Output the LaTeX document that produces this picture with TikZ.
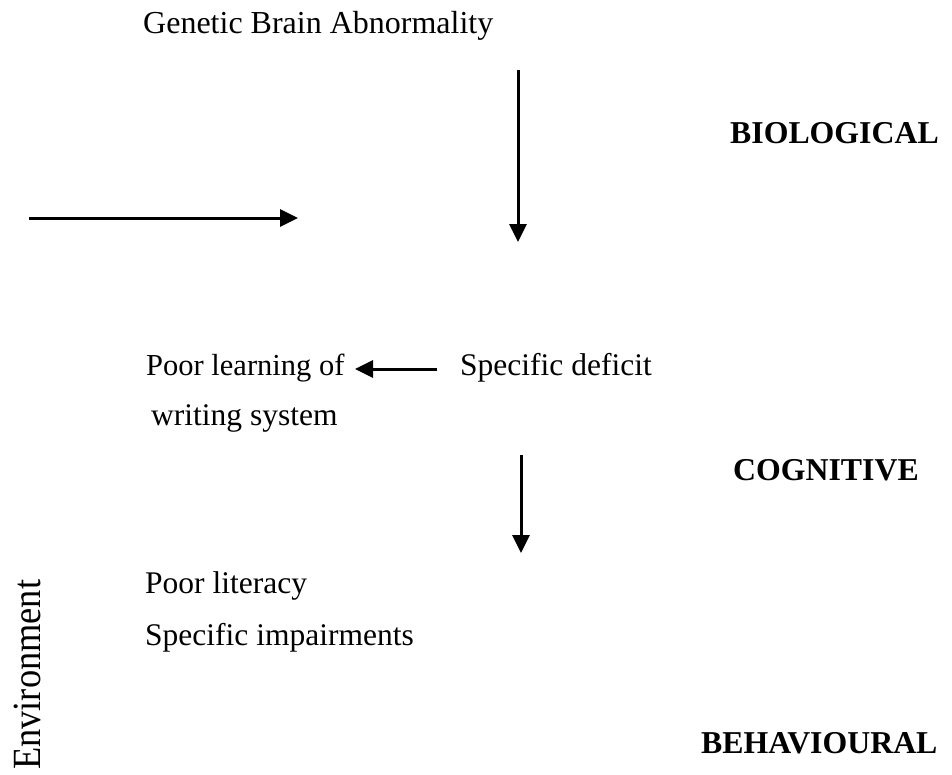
\documentclass[tikz,border=0pt]{standalone}
\usepackage{fontspec}
\setmainfont{Liberation Serif}
\usetikzlibrary{arrows.meta}
\begin{document}
\begin{tikzpicture}[x=1pt,y=-1pt,
  lbl/.style={anchor=base west,inner sep=0pt,font=\fontsize{31.5}{36}\selectfont},
  lvl/.style={anchor=base west,inner sep=0pt,font=\fontsize{31.8}{36}\selectfont\bfseries},
  arr/.style={line width=3pt,-{Triangle[width=17pt,length=18pt]}}]
\useasboundingbox (0,0) rectangle (952,774);
\node[lbl,font=\fontsize{32}{36}\selectfont] (gba) at (143,33) {Genetic Brain Abnormality};
\node[lvl] (bio) at (730,143) {BIOLOGICAL};
\coordinate (a1s) at (518,70);
\coordinate (a1e) at (518,242);
\draw[arr] (a1s) -- (a1e);
\coordinate (envs) at (29,218);
\coordinate (enve) at (298,218);
\draw[arr] (envs) -- (enve);
\node[lbl,font=\fontsize{30.5}{36}\selectfont] (pl) at (146,375) {Poor learning of};
\node[lbl] (sd) at (460,375) {Specific deficit};
\node[lbl] (ws) at (151,425) {writing system};
\coordinate (a2s) at (437,369);
\coordinate (a2e) at (355,369);
\draw[arr] (a2s) -- (a2e);
\coordinate (a3s) at (521,455);
\coordinate (a3e) at (521,553);
\draw[arr] (a3s) -- (a3e);
\node[lvl] (cog) at (733,480) {COGNITIVE};
\node[lbl] (plit) at (145,593) {Poor literacy};
\node[lbl] (si) at (145,645) {Specific impairments};
\node[lbl,rotate=90,font=\fontsize{40}{44}\selectfont] (env) at (40,770) {\scalebox{0.91}[1]{Environment}};
\node[lvl] (beh) at (701,753) {BEHAVIOURAL};
\end{tikzpicture}
\end{document}
